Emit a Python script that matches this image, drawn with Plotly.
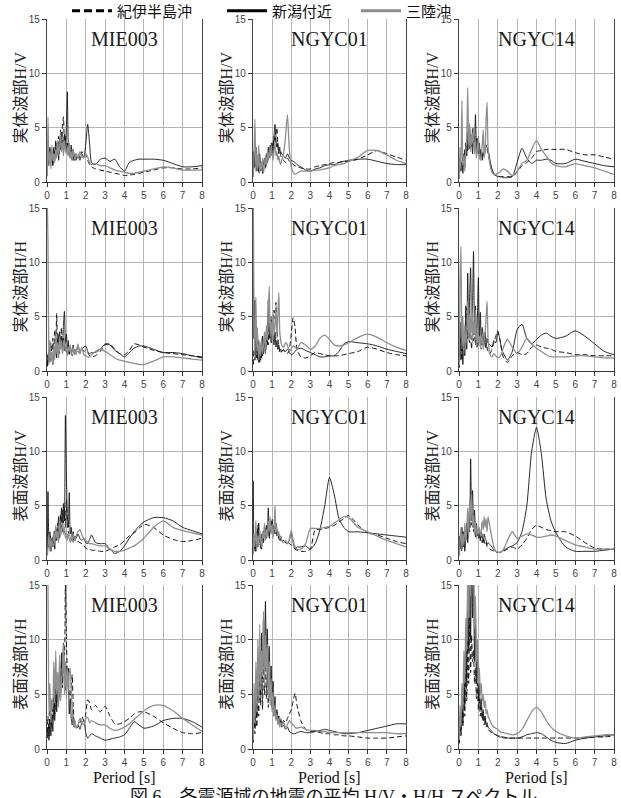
import plotly.graph_objects as go

# ---------------- data ----------------
PERIOD = [0.02, 0.05, 0.1, 0.15, 0.2, 0.25, 0.3, 0.35, 0.4, 0.45, 0.5, 0.55, 0.6, 0.65, 0.7, 0.75,
          0.8, 0.85, 0.9, 0.95, 1.0, 1.05, 1.1, 1.15, 1.2, 1.25, 1.3, 1.35, 1.4, 1.45, 1.5,
          1.6, 1.7, 1.8, 1.9, 2.0, 2.1, 2.2, 2.3,
          2.5, 2.75, 3.0, 3.25, 3.5, 3.75, 4.0, 4.25, 4.5, 4.75, 5.0,
          5.5, 6.0, 6.5, 7.0, 7.5, 8.0]

SOURCES = ["紀伊半島沖", "新潟付近", "三陸沖"]
STATIONS = ["MIE003", "NGYC01", "NGYC14"]
ROW_LABELS = ["実体波部H/V", "実体波部H/H", "表面波部H/V", "表面波部H/H"]
X_TICKS = [0, 1, 2, 3, 4, 5, 6, 7, 8]
Y_TICKS = [0, 5, 10, 15]
Y_GRID = [5, 10]
X_LABEL = "Period [s]"
CAPTION = "図 6　各震源域の地震の平均 H/V・H/H スペクトル"

# Row 1: body-wave H/V
BHV_MIE003_KII = [1.0, 2.2, 1.5, 3.0, 1.8, 2.8, 1.6, 3.2, 2.0, 3.6, 2.4, 3.0, 4.2, 2.6, 4.8, 3.2, 5.2, 6.0, 3.4, 4.2, 2.8, 3.6, 2.4, 3.0, 2.2, 2.8, 1.9, 2.6, 2.0, 2.4, 2.2,
                  2.6, 2.2, 2.8, 2.4, 2.5, 2.0, 1.6, 1.4,
                  1.2, 1.1, 1.0, 0.9, 0.8, 0.7, 0.6, 0.65, 0.7, 0.8, 0.9,
                  1.1, 1.3, 1.3, 1.2, 1.2, 1.3]
BHV_MIE003_NII = [0.8, 2.5, 1.8, 3.2, 2.0, 2.6, 1.5, 3.0, 2.2, 3.8, 2.6, 3.4, 2.0, 4.0, 3.0, 4.6, 3.5, 2.8, 4.4, 3.2, 5.0, 8.3, 3.5, 3.0, 2.6, 3.4, 2.2, 3.0, 2.0, 2.6, 2.0,
                  2.4, 2.0, 2.6, 2.2, 3.5, 5.3, 3.5, 1.8,
                  1.6, 2.1, 2.2, 1.9, 2.1, 1.4, 1.0, 1.8, 2.0, 2.1, 2.1,
                  2.1, 2.0, 1.7, 1.4, 1.4, 1.5]
BHV_MIE003_SAN = [0.5, 6.0, 1.5, 2.8, 1.2, 3.4, 2.0, 2.6, 1.8, 3.0, 2.2, 3.8, 2.5, 3.2, 4.6, 2.8, 3.6, 2.4, 3.8, 3.0, 2.6, 3.2, 2.4, 3.6, 2.2, 2.8, 2.0, 3.0, 2.4, 2.0, 2.6,
                  2.2, 2.8, 2.4, 2.2, 2.6, 2.3, 1.8, 1.6,
                  1.7, 1.5, 1.5, 1.3, 1.1, 1.0, 0.9, 0.8, 0.8, 0.9, 1.0,
                  1.2, 1.4, 1.3, 1.1, 1.1, 1.1]

BHV_NGYC01_KII = [0.8, 2.0, 1.2, 2.4, 1.0, 1.8, 0.8, 2.2, 1.0, 1.6, 0.8, 1.4, 2.0, 1.2, 2.4, 1.8, 3.0, 2.2, 2.8, 3.6, 2.4, 3.2, 4.2, 3.6, 4.4, 5.0, 3.4, 2.8, 3.2, 2.4, 2.2,
                  2.0, 1.8, 2.2, 1.9, 1.8, 1.6, 1.5, 1.4,
                  1.3, 1.2, 1.2, 1.4, 1.5, 1.6, 1.7, 1.8, 1.8, 1.9, 1.9,
                  2.1, 2.5, 2.9, 2.6, 2.3, 2.0]
BHV_NGYC01_NII = [0.5, 2.8, 1.5, 3.2, 1.2, 2.0, 1.0, 2.6, 1.4, 1.8, 1.0, 1.6, 2.2, 1.4, 2.6, 2.0, 3.2, 2.4, 3.4, 2.8, 3.6, 2.6, 4.2, 5.3, 4.0, 3.2, 3.6, 2.6, 3.0, 2.8, 2.6,
                  2.4, 2.2, 2.6, 2.2, 2.0, 1.9, 1.8, 1.6,
                  1.4, 1.1, 1.0, 1.2, 1.3, 1.5, 1.6, 1.6, 1.8, 1.9, 2.0,
                  2.1, 2.1, 1.9, 1.7, 1.6, 1.6]
BHV_NGYC01_SAN = [0.5, 2.0, 5.8, 1.0, 2.6, 1.2, 3.4, 0.8, 1.8, 1.2, 2.2, 0.8, 1.6, 2.4, 1.4, 2.8, 2.0, 3.0, 2.2, 3.4, 2.6, 2.0, 3.0, 3.6, 2.4, 2.8, 2.0, 2.4, 1.8, 1.6, 2.0,
                  2.6, 4.2, 6.2, 3.0, 1.4, 0.9, 0.7, 0.8,
                  1.0, 1.0, 1.0, 1.1, 1.1, 1.2, 1.3, 1.5, 1.6, 1.7, 1.9,
                  2.3, 2.9, 2.9, 2.5, 2.0, 1.7]

BHV_NGYC14_KII = [0.6, 1.5, 2.0, 1.2, 2.4, 1.6, 3.0, 2.2, 3.6, 2.8, 4.0, 3.0, 4.4, 3.2, 5.0, 3.6, 4.2, 3.0, 4.0, 3.2, 2.6, 3.4, 2.4, 3.0, 2.2, 2.8, 2.4, 3.2, 3.4, 3.0, 2.6,
                  1.8, 1.0, 0.7, 0.6, 0.55, 0.5, 0.5, 0.5,
                  0.5, 0.5, 0.9, 1.5, 1.8, 2.2, 2.8, 2.9, 3.0, 3.0, 3.0,
                  3.0, 2.7, 2.5, 2.5, 2.3, 2.1]
BHV_NGYC14_NII = [0.4, 2.2, 1.0, 1.8, 0.8, 2.6, 1.4, 3.6, 2.4, 4.6, 3.0, 5.0, 3.4, 4.2, 2.6, 4.4, 3.2, 6.2, 3.0, 4.0, 2.6, 3.6, 2.2, 3.0, 2.0, 2.6, 2.4, 3.0, 3.3, 3.2, 3.0,
                  2.0, 1.2, 0.8, 0.6, 0.5, 0.5, 0.45, 0.4,
                  0.4, 0.5, 1.8, 3.1, 2.2, 1.7, 2.0, 2.0, 2.1, 2.0, 1.7,
                  1.7, 2.1, 1.9, 1.7, 1.5, 1.4]
BHV_NGYC14_SAN = [0.3, 3.2, 1.2, 7.5, 1.5, 2.4, 1.0, 2.8, 4.0, 8.7, 3.0, 5.4, 2.8, 4.4, 3.6, 5.0, 2.6, 3.8, 2.2, 3.0, 4.2, 2.4, 2.0, 2.6, 3.4, 4.8, 2.2, 3.0, 5.8, 7.3, 3.2,
                  1.6, 0.9, 0.7, 0.7, 0.8, 0.9, 1.1, 1.2,
                  1.0, 0.6, 1.0, 1.7, 2.0, 3.0, 3.8, 3.0, 2.4, 1.8, 1.5,
                  1.4, 1.7, 1.5, 1.3, 1.0, 0.7]

# Row 2: body-wave H/H
BHH_MIE003_KII = [0.5, 1.2, 2.0, 1.0, 2.6, 1.4, 3.0, 1.8, 3.8, 2.4, 5.3, 2.0, 3.4, 1.6, 2.8, 4.0, 2.2, 3.0, 1.8, 2.6, 2.0, 1.6, 2.4, 1.4, 2.0, 1.8, 1.4, 2.0, 1.6, 1.8, 1.5,
                  1.8, 1.6, 2.0, 1.8, 1.9, 1.7, 1.4, 1.3,
                  1.4, 1.8, 2.4, 2.5, 2.0, 1.6, 1.5, 1.9, 2.5, 2.4, 2.2,
                  1.9, 1.7, 1.6, 1.5, 1.4, 1.3]
BHH_MIE003_NII = [0.4, 1.5, 0.8, 2.2, 1.0, 1.6, 0.6, 2.0, 1.4, 2.6, 1.2, 3.0, 2.0, 3.6, 2.4, 3.2, 1.8, 4.2, 5.5, 2.6, 3.4, 2.0, 2.8, 1.6, 2.2, 1.8, 2.0, 2.4, 1.6, 2.0, 1.8,
                  2.2, 1.8, 2.0, 2.2, 2.3, 1.8, 1.6, 1.7,
                  1.7, 2.0, 2.5, 2.4, 1.9, 1.6, 1.3, 1.7, 2.1, 2.3, 2.3,
                  2.0, 1.7, 1.7, 1.6, 1.4, 1.2]
BHH_MIE003_SAN = [15, 12, 0.6, 2.8, 0.8, 1.8, 0.6, 2.4, 1.0, 3.4, 1.6, 2.6, 1.2, 3.2, 2.0, 2.8, 1.6, 2.2, 3.0, 1.8, 2.6, 1.4, 2.2, 1.8, 2.4, 1.6, 1.8, 2.2, 1.5, 2.0, 1.6,
                  2.5, 1.6, 2.2, 1.5, 1.4, 1.3, 1.3, 1.5,
                  1.8, 2.0, 1.8, 1.5, 1.2, 1.0, 0.9, 0.8, 0.7, 0.6, 0.6,
                  0.9, 1.3, 1.3, 1.2, 1.1, 1.0]

BHH_NGYC01_KII = [0.6, 2.0, 1.0, 2.6, 1.2, 1.8, 0.8, 2.2, 1.0, 2.8, 1.4, 2.0, 3.0, 1.6, 2.6, 3.4, 2.4, 4.0, 3.0, 5.0, 3.6, 4.4, 5.6, 4.8, 6.3, 3.8, 3.0, 2.2, 1.8, 1.6, 1.8,
                  1.9, 1.7, 1.6, 2.0, 3.4, 4.9, 4.0, 2.0,
                  1.3, 1.2, 1.4, 1.7, 1.6, 1.5, 1.4, 1.4, 1.4, 1.5, 1.6,
                  1.8, 2.2, 2.0, 1.7, 1.5, 1.4]
BHH_NGYC01_NII = [10.5, 3.0, 6.5, 1.2, 4.0, 1.0, 2.8, 0.8, 2.4, 1.2, 3.2, 1.6, 2.8, 2.0, 3.6, 2.4, 6.5, 3.0, 4.4, 2.6, 4.0, 3.2, 2.4, 3.6, 2.2, 2.8, 2.0, 2.4, 1.8, 2.0, 1.8,
                  2.0, 1.8, 2.0, 1.7, 1.5, 1.6, 1.8, 2.0,
                  2.1, 1.9, 1.7, 1.5, 1.3, 1.3, 1.4, 1.4, 1.8, 2.5, 2.7,
                  2.6, 2.5, 2.3, 2.0, 1.8, 1.6]
BHH_NGYC01_SAN = [15, 4.8, 1.2, 6.8, 1.8, 3.4, 1.0, 2.6, 1.4, 3.0, 1.6, 2.4, 3.6, 2.0, 4.2, 2.8, 5.6, 7.8, 3.2, 4.6, 2.8, 5.4, 3.4, 4.2, 6.0, 3.0, 5.2, 7.2, 3.6, 2.8, 2.4,
                  2.2, 2.6, 2.4, 1.8, 2.0, 2.3, 2.2, 2.0,
                  2.6, 2.4, 2.0, 2.3, 3.0, 3.3, 2.9, 2.4, 2.3, 2.4, 2.6,
                  3.1, 3.4, 3.1, 2.6, 2.2, 1.9]

BHH_NGYC14_KII = [0.4, 2.0, 3.2, 1.0, 2.6, 1.6, 3.6, 2.4, 5.8, 3.0, 4.0, 2.6, 3.2, 2.0, 4.4, 2.8, 3.6, 2.4, 3.4, 2.2, 2.8, 3.0, 2.4, 2.0, 2.6, 2.2, 2.8, 2.4, 2.0, 2.2, 1.8,
                  1.6, 2.0, 2.6, 3.2, 3.7, 3.0, 2.0, 1.2,
                  0.8, 1.4, 1.7, 1.5, 1.6, 2.2, 2.4, 2.2, 2.1, 2.0, 1.8,
                  1.7, 1.5, 1.5, 1.4, 1.4, 1.4]
BHH_NGYC14_NII = [0.3, 4.5, 1.0, 5.0, 0.6, 3.4, 1.4, 6.0, 2.0, 9.0, 3.0, 7.0, 9.5, 4.0, 6.2, 11.0, 3.4, 6.0, 2.4, 5.0, 8.6, 3.0, 5.4, 2.4, 4.0, 3.2, 2.6, 3.6, 2.2, 3.0, 2.6,
                  2.4, 2.2, 2.8, 2.6, 3.6, 3.0, 2.0, 1.6,
                  1.0, 1.8, 3.8, 4.3, 3.0, 2.5, 2.9, 3.3, 3.5, 3.2, 3.0,
                  3.2, 3.7, 3.2, 2.5, 1.8, 1.5]
BHH_NGYC14_SAN = [0.5, 8.0, 11.5, 2.0, 5.0, 1.6, 4.2, 2.4, 3.6, 6.4, 2.8, 5.2, 3.0, 6.6, 2.6, 4.6, 3.4, 5.6, 2.2, 3.6, 2.8, 3.2, 2.2, 2.6, 3.4, 2.0, 2.8, 3.6, 5.0, 6.4, 3.0,
                  1.5, 1.3, 1.6, 1.4, 1.2, 1.3, 1.6, 2.2,
                  2.9, 2.2, 1.6, 2.2, 3.0, 2.5, 2.1, 1.8, 1.5, 1.3, 1.3,
                  1.3, 1.4, 1.4, 1.3, 1.2, 1.2]

# Row 3: surface-wave H/V
SHV_MIE003_KII = [0.5, 1.8, 1.0, 2.4, 1.2, 1.6, 2.2, 1.4, 2.8, 1.8, 2.4, 3.4, 2.2, 2.8, 4.2, 3.0, 4.6, 3.4, 4.8, 3.0, 5.6, 3.2, 2.6, 2.2, 2.0, 1.8, 2.2, 1.6, 2.0, 1.8, 1.6,
                  1.7, 1.6, 1.5, 1.3, 1.1, 1.0, 1.0, 0.9,
                  0.9, 0.8, 0.8, 1.0, 1.2, 1.4, 1.8, 2.2, 2.5, 2.9, 3.3,
                  3.0, 2.3, 1.9, 1.7, 1.8, 2.0]
SHV_MIE003_NII = [0.8, 6.3, 1.5, 2.6, 0.8, 2.0, 1.2, 2.4, 1.0, 3.0, 1.8, 2.6, 4.0, 2.0, 3.4, 4.8, 2.6, 5.2, 3.6, 13.3, 8.0, 4.0, 3.0, 6.2, 2.4, 3.0, 2.0, 2.6, 1.8, 2.2, 2.0,
                  2.4, 2.0, 1.8, 2.0, 1.6, 1.5, 1.9, 2.3,
                  1.6, 1.5, 1.5, 1.0, 0.6, 0.8, 1.3, 2.0, 2.6, 3.1, 3.5,
                  3.9, 3.9, 3.6, 3.0, 2.7, 2.4]
SHV_MIE003_SAN = [0.4, 1.2, 2.4, 0.8, 2.0, 1.2, 1.6, 2.6, 1.4, 3.2, 2.0, 2.6, 1.6, 3.8, 2.2, 2.8, 3.4, 2.4, 3.0, 2.0, 2.6, 1.8, 2.4, 2.0, 1.6, 2.2, 1.8, 2.4, 2.0, 1.8, 2.2,
                  2.6, 2.8, 2.3, 2.0, 1.8, 1.6, 1.5, 1.5,
                  1.4, 1.3, 1.3, 1.0, 0.8, 0.8, 0.9, 1.1, 1.3, 1.6, 2.0,
                  3.0, 3.6, 3.0, 2.7, 2.5, 2.3]

SHV_NGYC01_KII = [0.6, 1.8, 0.8, 2.6, 1.2, 3.2, 1.4, 2.0, 1.0, 2.4, 1.8, 2.8, 2.2, 3.0, 2.0, 2.6, 3.4, 2.2, 3.0, 2.6, 3.8, 2.4, 3.0, 2.6, 2.4, 2.8, 2.2, 2.0, 2.4, 1.8, 1.6,
                  1.8, 1.6, 1.7, 1.5, 1.4, 1.2, 1.0, 0.9,
                  0.8, 0.8, 1.0, 2.8, 2.8, 2.9, 3.0, 3.2, 3.5, 3.8, 4.1,
                  3.2, 2.5, 2.3, 2.0, 1.7, 1.5]
SHV_NGYC01_NII = [7.3, 1.0, 2.2, 0.8, 2.6, 1.2, 3.4, 1.6, 2.0, 1.0, 2.4, 1.6, 2.8, 2.0, 3.2, 2.4, 4.8, 2.0, 3.0, 3.6, 2.6, 3.2, 2.4, 2.8, 3.4, 2.2, 2.6, 2.0, 1.8, 2.2, 1.8,
                  1.8, 1.6, 1.5, 1.8, 2.5, 1.6, 1.0, 1.2,
                  1.2, 1.3, 1.0, 1.5, 2.8, 5.0, 7.6, 6.0, 3.8, 3.0, 2.6,
                  2.6, 2.5, 2.4, 2.3, 2.2, 2.1]
SHV_NGYC01_SAN = [0.5, 2.4, 1.2, 3.6, 1.0, 2.2, 1.4, 2.8, 1.8, 1.2, 2.6, 2.0, 3.4, 1.8, 2.8, 2.2, 3.6, 2.6, 4.0, 2.4, 3.2, 2.0, 2.8, 5.0, 2.6, 3.0, 2.2, 2.6, 2.0, 2.2, 1.8,
                  1.6, 1.8, 1.5, 1.9, 2.7, 1.8, 1.2, 1.0,
                  1.0, 1.5, 2.9, 2.9, 2.9, 3.0, 3.1, 3.4, 3.7, 4.0, 3.9,
                  3.0, 2.6, 2.2, 1.8, 1.5, 1.2]

SHV_NGYC14_KII = [0.5, 1.4, 2.0, 0.8, 2.6, 1.2, 2.2, 1.8, 3.0, 2.0, 3.6, 2.6, 5.0, 3.2, 4.4, 2.6, 3.6, 2.0, 2.8, 2.4, 2.0, 2.6, 1.8, 2.2, 1.6, 2.0, 1.8, 1.4, 1.6, 1.2, 1.2,
                  1.0, 0.9, 0.8, 0.7, 0.7, 0.7, 0.7, 0.8,
                  1.0, 1.2, 1.0, 1.4, 2.0, 2.8, 3.2, 3.0, 2.8, 2.7, 2.6,
                  2.6, 2.2, 1.6, 1.1, 1.0, 1.0]
SHV_NGYC14_NII = [0.5, 2.2, 1.0, 3.0, 1.2, 2.6, 0.8, 2.0, 3.4, 1.6, 4.2, 3.0, 9.3, 4.0, 6.4, 3.0, 4.6, 2.6, 3.4, 2.2, 2.8, 2.4, 1.8, 2.6, 2.2, 1.6, 2.4, 2.0, 1.8, 1.4, 1.6,
                  1.4, 1.2, 0.9, 0.8, 0.7, 0.7, 0.8, 0.9,
                  1.1, 1.3, 1.6, 2.6, 5.0, 10.0, 12.2, 9.8, 5.6, 3.6, 2.5,
                  1.2, 0.8, 0.8, 0.8, 0.9, 1.0]
SHV_NGYC14_SAN = [0.4, 1.6, 3.0, 1.0, 2.4, 1.4, 3.4, 1.8, 2.6, 4.8, 2.2, 5.6, 3.6, 6.0, 3.0, 4.2, 2.4, 3.6, 2.0, 2.8, 2.4, 3.0, 2.2, 2.6, 3.6, 2.8, 4.0, 3.0, 3.8, 2.6, 4.0,
                  3.0, 2.0, 1.2, 0.8, 0.7, 0.7, 0.8, 1.0,
                  1.8, 2.6, 2.0, 2.2, 2.4, 2.3, 2.1, 2.1, 2.2, 2.3, 2.2,
                  1.8, 1.4, 1.2, 1.0, 1.0, 1.0]

# Row 4: surface-wave H/H
SHH_MIE003_KII = [1.5, 3.0, 1.2, 3.6, 2.0, 4.4, 2.6, 5.0, 3.2, 6.2, 4.0, 7.0, 4.6, 6.4, 5.2, 8.0, 5.6, 9.0, 8.6, 16, 10, 7.2, 6.0, 5.0, 4.8, 5.6, 6.8, 4.2, 2.6, 2.2, 2.0,
                  2.0, 2.4, 3.0, 2.6, 3.2, 4.5, 4.2, 3.6,
                  4.0, 3.4, 3.9, 3.0, 2.3, 2.3, 2.5, 2.8, 3.2, 3.4, 3.4,
                  3.0, 2.4, 1.9, 1.5, 1.4, 1.5]
SHH_MIE003_NII = [1.0, 2.0, 0.8, 2.4, 1.2, 3.0, 1.6, 4.2, 2.6, 5.4, 3.4, 6.0, 4.4, 7.6, 5.0, 8.8, 6.0, 9.7, 7.0, 5.4, 7.6, 6.0, 7.4, 3.2, 4.6, 2.8, 2.2, 3.0, 2.0, 2.4, 2.0,
                  2.2, 1.8, 2.4, 2.6, 1.5, 1.0, 1.2, 1.4,
                  1.2, 1.0, 0.8, 0.9, 1.0, 1.1, 1.3, 1.9, 2.5, 2.2, 1.9,
                  2.1, 2.6, 2.8, 2.8, 2.5, 2.0]
SHH_MIE003_SAN = [20, 15, 3.0, 6.0, 2.4, 4.6, 3.6, 8.0, 4.2, 9.0, 5.0, 7.0, 3.8, 8.6, 4.4, 6.0, 7.4, 9.6, 5.0, 8.0, 4.6, 7.6, 5.2, 7.0, 7.4, 5.2, 3.8, 2.4, 2.0, 2.6, 1.9,
                  2.2, 2.8, 2.4, 2.2, 2.8, 2.9, 2.4, 2.6,
                  2.4, 2.2, 2.2, 1.9, 1.7, 1.8, 2.0, 2.3, 2.7, 3.1, 3.5,
                  4.0, 4.0, 3.5, 2.8, 2.2, 1.6]

SHH_NGYC01_KII = [0.6, 2.6, 1.4, 4.4, 2.0, 6.0, 3.0, 7.4, 4.0, 8.4, 3.6, 9.6, 5.0, 8.8, 4.6, 7.2, 3.8, 6.6, 4.4, 5.8, 3.6, 4.6, 3.0, 4.0, 2.6, 3.4, 2.6, 3.0, 2.4, 2.8, 2.2,
                  2.6, 2.4, 2.8, 3.2, 3.6, 4.4, 5.1, 4.0,
                  2.6, 1.8, 1.6, 1.6, 1.5, 1.4, 1.4, 1.3, 1.3, 1.2, 1.2,
                  1.1, 1.0, 1.0, 1.0, 1.1, 1.2]
SHH_NGYC01_NII = [1.0, 4.0, 2.0, 6.0, 3.0, 7.6, 4.4, 9.0, 5.0, 10.6, 6.4, 12.0, 7.0, 13.5, 8.0, 11.0, 6.0, 9.4, 5.4, 7.6, 4.0, 6.2, 3.4, 4.8, 2.8, 3.6, 2.4, 3.0, 2.2, 2.6, 2.0,
                  2.2, 1.8, 2.0, 1.6, 1.5, 1.4, 1.4, 1.5,
                  1.6, 1.5, 1.5, 1.6, 1.7, 1.8, 1.7, 1.6, 1.5, 1.4, 1.4,
                  1.5, 1.7, 1.9, 2.1, 2.3, 2.3]
SHH_NGYC01_SAN = [0.8, 6.0, 2.4, 8.0, 3.4, 10.0, 4.2, 11.4, 5.4, 9.0, 6.6, 12.6, 5.8, 10.4, 7.0, 9.6, 4.6, 8.0, 4.0, 6.4, 3.4, 5.2, 3.0, 4.0, 2.6, 3.2, 2.2, 2.8, 2.0, 2.4, 2.2,
                  2.4, 2.0, 2.2, 2.6, 2.4, 2.2, 2.0, 1.9,
                  2.0, 1.8, 1.7, 1.7, 1.6, 1.6, 1.5, 1.5, 1.5, 1.5, 1.5,
                  1.5, 1.5, 1.5, 1.5, 1.4, 1.4]

SHH_NGYC14_KII = [0.5, 2.4, 1.2, 4.0, 2.0, 6.0, 3.0, 8.0, 4.4, 10.0, 6.0, 12.0, 7.0, 10.4, 8.0, 9.0, 6.0, 7.4, 4.6, 6.0, 3.6, 4.6, 3.0, 3.8, 2.6, 3.2, 2.2, 2.8, 2.0, 2.2, 1.8,
                  1.6, 1.5, 1.4, 1.3, 1.2, 1.2, 1.1, 1.1,
                  1.0, 1.0, 1.0, 1.0, 1.0, 1.0, 1.0, 1.0, 1.0, 1.0, 1.0,
                  1.0, 1.0, 1.0, 1.1, 1.1, 1.2]
SHH_NGYC14_NII = [0.6, 3.0, 1.4, 5.0, 2.4, 8.0, 4.0, 11.0, 6.0, 15, 9.0, 17, 10, 18, 12, 16, 8.0, 12, 6.0, 9.0, 4.4, 6.0, 3.6, 4.6, 3.0, 3.6, 2.6, 3.0, 2.2, 2.4, 2.0,
                  1.8, 1.6, 1.4, 1.3, 1.2, 1.1, 1.1, 1.0,
                  1.0, 1.0, 1.0, 1.1, 1.3, 1.4, 1.5, 1.4, 1.1, 0.8, 0.6,
                  0.5, 0.8, 1.0, 1.1, 1.2, 1.3]
SHH_NGYC14_SAN = [0.8, 4.0, 2.0, 6.0, 3.6, 9.0, 6.0, 12.0, 9.0, 16, 12, 18, 14, 20, 15, 17, 11, 14, 8.0, 10, 6.0, 7.4, 5.0, 6.0, 4.4, 5.0, 3.8, 4.4, 3.2, 3.6, 3.0,
                  2.6, 2.2, 2.0, 1.9, 1.8, 1.6, 1.5, 1.5,
                  1.4, 1.3, 1.4, 1.8, 2.6, 3.4, 3.8, 3.4, 2.6, 2.0, 1.6,
                  1.2, 1.0, 1.1, 1.2, 1.3, 1.3]

PANELS = [
    [(BHV_MIE003_KII, BHV_MIE003_NII, BHV_MIE003_SAN),
     (BHV_NGYC01_KII, BHV_NGYC01_NII, BHV_NGYC01_SAN),
     (BHV_NGYC14_KII, BHV_NGYC14_NII, BHV_NGYC14_SAN)],
    [(BHH_MIE003_KII, BHH_MIE003_NII, BHH_MIE003_SAN),
     (BHH_NGYC01_KII, BHH_NGYC01_NII, BHH_NGYC01_SAN),
     (BHH_NGYC14_KII, BHH_NGYC14_NII, BHH_NGYC14_SAN)],
    [(SHV_MIE003_KII, SHV_MIE003_NII, SHV_MIE003_SAN),
     (SHV_NGYC01_KII, SHV_NGYC01_NII, SHV_NGYC01_SAN),
     (SHV_NGYC14_KII, SHV_NGYC14_NII, SHV_NGYC14_SAN)],
    [(SHH_MIE003_KII, SHH_MIE003_NII, SHH_MIE003_SAN),
     (SHH_NGYC01_KII, SHH_NGYC01_NII, SHH_NGYC01_SAN),
     (SHH_NGYC14_KII, SHH_NGYC14_NII, SHH_NGYC14_SAN)],
]

# ---------------- styling / layout ----------------
W, H = 621, 798
COL_PX = [(47, 202), (253, 406), (459, 614)]
ROW_PX = [(19, 182), (208, 371), (397, 560), (585, 749)]
LEGEND_X_PX = [67, 222, 356]

LINE_STYLES = [
    dict(color="#111111", width=1.0, dash="5px,3px"),
    dict(color="#111111", width=0.9),
    dict(color="#8f8f8f", width=1.3),
]
LEGEND_STYLES = [
    dict(color="#000000", width=3, dash="8px,4px"),
    dict(color="#000000", width=3),
    dict(color="#8c8c8c", width=3),
]

SERIF = "Liberation Serif, Noto Sans CJK JP, serif"
SANS = "Liberation Sans, Arial, sans-serif"
CJK = "Noto Sans CJK JP, sans-serif"
GRID = "#b4b4b4"

fig = go.Figure()
layout = dict(
    width=W, height=H,
    margin=dict(l=0, r=0, t=0, b=0, autoexpand=False),
    paper_bgcolor="white", plot_bgcolor="white",
    showlegend=True,
)
for s in range(3):
    key = "legend" if s == 0 else f"legend{s + 1}"
    layout[key] = dict(orientation="h", x=LEGEND_X_PX[s] / W, xanchor="left",
                       y=1 - 11 / H, yanchor="middle",
                       font=dict(family=CJK, size=15, color="#111"),
                       bgcolor="rgba(0,0,0,0)", itemwidth=40)

annotations = []
for r in range(4):
    for c in range(3):
        k = r * 3 + c + 1
        xn = "x" if k == 1 else f"x{k}"
        yn = "y" if k == 1 else f"y{k}"
        x0, x1 = COL_PX[c]
        yt, yb = ROW_PX[r]
        layout["xaxis" if k == 1 else f"xaxis{k}"] = dict(
            domain=[x0 / W, x1 / W], anchor=yn, range=[0, 8], tickvals=X_TICKS,
            showgrid=True, gridcolor=GRID, gridwidth=1, zeroline=False,
            showline=True, linecolor="#333", linewidth=1, mirror=False,
            ticks="outside", ticklen=4, tickcolor="#333", automargin=False,
            tickfont=dict(family=SANS, size=10, color="#444"), fixedrange=True)
        layout["yaxis" if k == 1 else f"yaxis{k}"] = dict(
            domain=[1 - yb / H, 1 - yt / H], anchor=xn, range=[0, 15], tickvals=Y_TICKS,
            showgrid=False, zeroline=False,
            minor=dict(tickvals=Y_GRID, showgrid=True, gridcolor=GRID, gridwidth=1, ticks=""),
            showline=True, linecolor="#444", linewidth=1.2, mirror=True,
            ticks="outside", ticklen=4, tickcolor="#333", automargin=False,
            tickfont=dict(family=SANS, size=10, color="#444"), fixedrange=True)
        for s in range(3):
            fig.add_trace(go.Scatter(
                x=PERIOD, y=PANELS[r][c][s], xaxis=xn, yaxis=yn, mode="lines",
                name=SOURCES[s], showlegend=False, hoverinfo="skip",
                line=dict(shape="spline", smoothing=0.6, **LINE_STYLES[s])))
        annotations.append(dict(
            text=STATIONS[c], xref=f"{xn} domain", yref=f"{yn} domain", x=0.5, y=1,
            xanchor="center", yanchor="top", yshift=-7, showarrow=False,
            font=dict(family=SERIF, size=20, color="#1a1a1a")))
        annotations.append(dict(
            text=ROW_LABELS[r], xref=f"{xn} domain", yref=f"{yn} domain", x=0, y=0.5,
            xanchor="center", yanchor="middle", xshift=-27, yshift=3, textangle=-90,
            showarrow=False, font=dict(family=SERIF, size=16, color="#222")))
        if r == 3:
            annotations.append(dict(
                text=X_LABEL, xref=f"{xn} domain", yref="paper", x=0.5, y=1 - 777 / H,
                xanchor="center", yanchor="middle", showarrow=False,
                font=dict(family=SERIF, size=16, color="#111")))

# legend entries (one legend box per source, positioned like the reference)
for s in range(3):
    fig.add_trace(go.Scatter(x=[None], y=[None], xaxis="x", yaxis="y", mode="lines",
                             name=SOURCES[s], showlegend=True, hoverinfo="skip",
                             legend="legend" if s == 0 else f"legend{s + 1}",
                             line=LEGEND_STYLES[s]))

annotations.append(dict(
    text=CAPTION, xref="paper", yref="paper", x=334 / W, y=1 - 797 / H,
    xanchor="center", yanchor="middle", showarrow=False,
    font=dict(family=SERIF, size=18, color="#111")))

layout["annotations"] = annotations
fig.update_layout(**layout)
fig.write_html("out.html")
